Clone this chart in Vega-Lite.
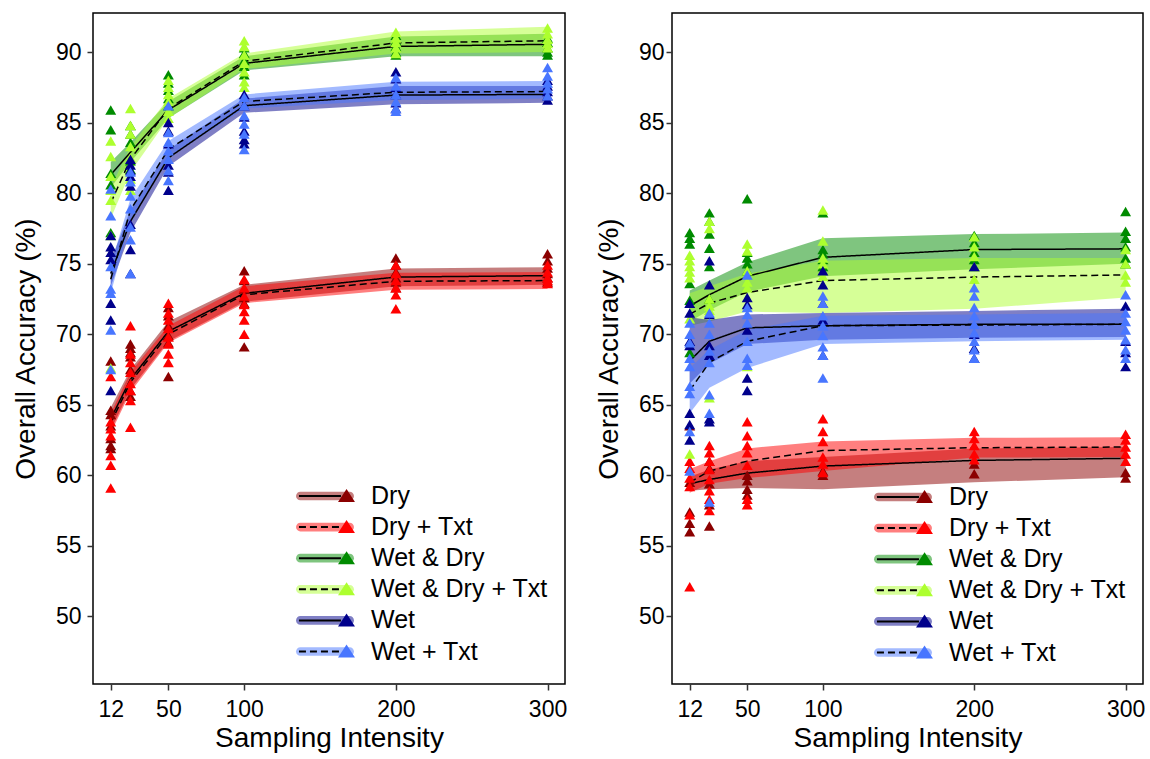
{
  "$schema": "https://vega.github.io/schema/vega-lite/v6.json",
  "padding": {"left": 11, "top": 12, "right": 5, "bottom": 2},
  "background": "white",
  "spacing": 26,
  "config": {
    "font": "Liberation Sans",
    "view": {"stroke": "black", "strokeWidth": 1.5, "fill": "white"},
    "axis": {"grid": false, "domain": false, "tickColor": "#333", "tickWidth": 1.5, "tickSize": 6, "labelFontSize": 23, "labelColor": "black", "labelFont": "Liberation Sans", "titleFontSize": 28, "titleFontWeight": "normal", "titleColor": "black", "titleFont": "Liberation Sans"},
    "legend": {"labelFont": "Liberation Sans", "labelFontSize": 25, "labelColor": "black", "labelLimit": 400, "padding": 0, "symbolSize": 784, "symbolStrokeWidth": 2, "rowPadding": 3.1, "labelOffset": 31, "title": null}
  },
  "resolve": {"scale": {"fill": "independent", "color": "independent", "strokeDash": "independent"}},
  "datasets": {
    "bandsA": [
      {"series": "Dry", "n": 12, "mean": 64.0, "lo": 63.2, "hi": 64.8},
      {"series": "Dry", "n": 25, "mean": 66.8, "lo": 66.1, "hi": 67.5},
      {"series": "Dry", "n": 50, "mean": 70.2, "lo": 69.5, "hi": 70.9},
      {"series": "Dry", "n": 100, "mean": 72.9, "lo": 72.3, "hi": 73.5},
      {"series": "Dry", "n": 200, "mean": 74.05, "lo": 73.4, "hi": 74.65},
      {"series": "Dry", "n": 300, "mean": 74.15, "lo": 73.5, "hi": 74.75},
      {"series": "Dry + Txt", "n": 12, "mean": 63.7, "lo": 63.0, "hi": 64.4},
      {"series": "Dry + Txt", "n": 25, "mean": 66.6, "lo": 65.9, "hi": 67.3},
      {"series": "Dry + Txt", "n": 50, "mean": 70.0, "lo": 69.4, "hi": 70.6},
      {"series": "Dry + Txt", "n": 100, "mean": 72.8, "lo": 72.2, "hi": 73.4},
      {"series": "Dry + Txt", "n": 200, "mean": 73.75, "lo": 73.15, "hi": 74.35},
      {"series": "Dry + Txt", "n": 300, "mean": 73.8, "lo": 73.2, "hi": 74.4},
      {"series": "Wet & Dry", "n": 12, "mean": 81.3, "lo": 80.4, "hi": 82.2},
      {"series": "Wet & Dry", "n": 25, "mean": 82.9, "lo": 82.2, "hi": 83.6},
      {"series": "Wet & Dry", "n": 50, "mean": 85.9, "lo": 85.3, "hi": 86.5},
      {"series": "Wet & Dry", "n": 100, "mean": 89.2, "lo": 88.7, "hi": 89.7},
      {"series": "Wet & Dry", "n": 200, "mean": 90.4, "lo": 89.7, "hi": 91.1},
      {"series": "Wet & Dry", "n": 300, "mean": 90.55, "lo": 89.7, "hi": 91.3},
      {"series": "Wet & Dry + Txt", "n": 12, "mean": 79.3, "lo": 78.2, "hi": 80.4},
      {"series": "Wet & Dry + Txt", "n": 25, "mean": 82.4, "lo": 81.5, "hi": 83.3},
      {"series": "Wet & Dry + Txt", "n": 50, "mean": 86.0, "lo": 85.3, "hi": 86.7},
      {"series": "Wet & Dry + Txt", "n": 100, "mean": 89.35, "lo": 88.8, "hi": 89.9},
      {"series": "Wet & Dry + Txt", "n": 200, "mean": 90.65, "lo": 89.9, "hi": 91.45},
      {"series": "Wet & Dry + Txt", "n": 300, "mean": 90.8, "lo": 90.0, "hi": 91.8},
      {"series": "Wet", "n": 12, "mean": 74.3, "lo": 73.4, "hi": 75.2},
      {"series": "Wet", "n": 25, "mean": 78.0, "lo": 77.2, "hi": 78.8},
      {"series": "Wet", "n": 50, "mean": 82.5, "lo": 81.9, "hi": 83.1},
      {"series": "Wet", "n": 100, "mean": 86.2, "lo": 85.7, "hi": 86.7},
      {"series": "Wet", "n": 200, "mean": 86.95, "lo": 86.3, "hi": 87.6},
      {"series": "Wet", "n": 300, "mean": 87.0, "lo": 86.4, "hi": 87.6},
      {"series": "Wet + Txt", "n": 12, "mean": 73.9, "lo": 72.9, "hi": 74.9},
      {"series": "Wet + Txt", "n": 25, "mean": 78.8, "lo": 78.0, "hi": 79.6},
      {"series": "Wet + Txt", "n": 50, "mean": 83.1, "lo": 82.5, "hi": 83.7},
      {"series": "Wet + Txt", "n": 100, "mean": 86.5, "lo": 86.0, "hi": 87.0},
      {"series": "Wet + Txt", "n": 200, "mean": 87.15, "lo": 86.6, "hi": 87.9},
      {"series": "Wet + Txt", "n": 300, "mean": 87.2, "lo": 86.7, "hi": 87.95}
    ],
    "bandsB": [
      {"series": "Dry", "n": 12, "mean": 59.4, "lo": 58.9, "hi": 59.9},
      {"series": "Dry", "n": 25, "mean": 59.7, "lo": 59.0, "hi": 60.4},
      {"series": "Dry", "n": 50, "mean": 60.15, "lo": 59.1, "hi": 61.0},
      {"series": "Dry", "n": 100, "mean": 60.65, "lo": 59.0, "hi": 61.3},
      {"series": "Dry", "n": 200, "mean": 61.05, "lo": 59.5, "hi": 61.9},
      {"series": "Dry", "n": 300, "mean": 61.2, "lo": 59.85, "hi": 62.0},
      {"series": "Dry + Txt", "n": 12, "mean": 59.5, "lo": 58.75, "hi": 60.45},
      {"series": "Dry + Txt", "n": 25, "mean": 60.3, "lo": 59.4, "hi": 61.0},
      {"series": "Dry + Txt", "n": 50, "mean": 61.0, "lo": 59.8, "hi": 61.9},
      {"series": "Dry + Txt", "n": 100, "mean": 61.75, "lo": 60.3, "hi": 62.4},
      {"series": "Dry + Txt", "n": 200, "mean": 61.95, "lo": 61.25, "hi": 62.65},
      {"series": "Dry + Txt", "n": 300, "mean": 62.0, "lo": 61.3, "hi": 62.7},
      {"series": "Wet & Dry", "n": 12, "mean": 72.0, "lo": 70.9, "hi": 73.1},
      {"series": "Wet & Dry", "n": 25, "mean": 72.8, "lo": 71.7, "hi": 73.8},
      {"series": "Wet & Dry", "n": 50, "mean": 74.1, "lo": 73.0, "hi": 75.1},
      {"series": "Wet & Dry", "n": 100, "mean": 75.45, "lo": 74.1, "hi": 76.8},
      {"series": "Wet & Dry", "n": 200, "mean": 76.0, "lo": 74.6, "hi": 77.1},
      {"series": "Wet & Dry", "n": 300, "mean": 76.05, "lo": 75.0, "hi": 77.2},
      {"series": "Wet & Dry + Txt", "n": 12, "mean": 71.4, "lo": 70.6, "hi": 72.9},
      {"series": "Wet & Dry + Txt", "n": 25, "mean": 72.2, "lo": 70.9, "hi": 73.4},
      {"series": "Wet & Dry + Txt", "n": 50, "mean": 72.95, "lo": 71.6, "hi": 74.3},
      {"series": "Wet & Dry + Txt", "n": 100, "mean": 73.8, "lo": 71.5, "hi": 75.2},
      {"series": "Wet & Dry + Txt", "n": 200, "mean": 74.05, "lo": 71.8, "hi": 75.4},
      {"series": "Wet & Dry + Txt", "n": 300, "mean": 74.2, "lo": 72.6, "hi": 75.4},
      {"series": "Wet", "n": 12, "mean": 68.1, "lo": 66.5, "hi": 71.2},
      {"series": "Wet", "n": 25, "mean": 69.5, "lo": 67.9, "hi": 71.0},
      {"series": "Wet", "n": 50, "mean": 70.45, "lo": 69.3, "hi": 71.4},
      {"series": "Wet", "n": 100, "mean": 70.6, "lo": 69.6, "hi": 71.5},
      {"series": "Wet", "n": 200, "mean": 70.7, "lo": 69.75, "hi": 71.65},
      {"series": "Wet", "n": 300, "mean": 70.7, "lo": 69.8, "hi": 71.8},
      {"series": "Wet + Txt", "n": 12, "mean": 66.0, "lo": 64.4, "hi": 67.6},
      {"series": "Wet + Txt", "n": 25, "mean": 68.0, "lo": 66.2, "hi": 68.9},
      {"series": "Wet + Txt", "n": 50, "mean": 69.5, "lo": 67.6, "hi": 70.3},
      {"series": "Wet + Txt", "n": 100, "mean": 70.6, "lo": 69.3, "hi": 71.3},
      {"series": "Wet + Txt", "n": 200, "mean": 70.65, "lo": 69.5, "hi": 71.4},
      {"series": "Wet + Txt", "n": 300, "mean": 70.7, "lo": 69.6, "hi": 71.5}
    ],
    "pointsA": [
      {"series": "Dry", "n": 12, "acc": 68.1}, {"series": "Dry", "n": 12, "acc": 64.6}, {"series": "Dry", "n": 12, "acc": 64.3}, {"series": "Dry", "n": 12, "acc": 63.5}, {"series": "Dry", "n": 12, "acc": 62.6}, {"series": "Dry", "n": 12, "acc": 62.1}, {"series": "Dry", "n": 12, "acc": 61.9},
      {"series": "Dry", "n": 25, "acc": 69.3}, {"series": "Dry", "n": 25, "acc": 69.0}, {"series": "Dry", "n": 25, "acc": 68.7}, {"series": "Dry", "n": 25, "acc": 68.4}, {"series": "Dry", "n": 25, "acc": 67.5}, {"series": "Dry", "n": 25, "acc": 66.0}, {"series": "Dry", "n": 25, "acc": 65.6},
      {"series": "Dry", "n": 50, "acc": 71.9}, {"series": "Dry", "n": 50, "acc": 71.3}, {"series": "Dry", "n": 50, "acc": 70.6}, {"series": "Dry", "n": 50, "acc": 69.9}, {"series": "Dry", "n": 50, "acc": 69.4}, {"series": "Dry", "n": 50, "acc": 67.0},
      {"series": "Dry", "n": 100, "acc": 74.5}, {"series": "Dry", "n": 100, "acc": 73.8}, {"series": "Dry", "n": 100, "acc": 73.2}, {"series": "Dry", "n": 100, "acc": 72.6}, {"series": "Dry", "n": 100, "acc": 72.2}, {"series": "Dry", "n": 100, "acc": 69.1},
      {"series": "Dry", "n": 200, "acc": 75.4}, {"series": "Dry", "n": 200, "acc": 74.9}, {"series": "Dry", "n": 200, "acc": 74.4}, {"series": "Dry", "n": 200, "acc": 74.0}, {"series": "Dry", "n": 200, "acc": 73.7}, {"series": "Dry", "n": 200, "acc": 73.3},
      {"series": "Dry", "n": 300, "acc": 75.7}, {"series": "Dry", "n": 300, "acc": 75.2}, {"series": "Dry", "n": 300, "acc": 74.7}, {"series": "Dry", "n": 300, "acc": 74.3}, {"series": "Dry", "n": 300, "acc": 74.0}, {"series": "Dry", "n": 300, "acc": 73.7},
      {"series": "Dry + Txt", "n": 12, "acc": 67.0}, {"series": "Dry + Txt", "n": 12, "acc": 63.8}, {"series": "Dry + Txt", "n": 12, "acc": 63.3}, {"series": "Dry + Txt", "n": 12, "acc": 62.8}, {"series": "Dry + Txt", "n": 12, "acc": 61.4}, {"series": "Dry + Txt", "n": 12, "acc": 60.7}, {"series": "Dry + Txt", "n": 12, "acc": 59.1},
      {"series": "Dry + Txt", "n": 25, "acc": 70.6}, {"series": "Dry + Txt", "n": 25, "acc": 68.6}, {"series": "Dry + Txt", "n": 25, "acc": 68.0}, {"series": "Dry + Txt", "n": 25, "acc": 67.3}, {"series": "Dry + Txt", "n": 25, "acc": 66.5}, {"series": "Dry + Txt", "n": 25, "acc": 66.0}, {"series": "Dry + Txt", "n": 25, "acc": 65.3}, {"series": "Dry + Txt", "n": 25, "acc": 63.4},
      {"series": "Dry + Txt", "n": 50, "acc": 72.2}, {"series": "Dry + Txt", "n": 50, "acc": 71.5}, {"series": "Dry + Txt", "n": 50, "acc": 71.0}, {"series": "Dry + Txt", "n": 50, "acc": 70.4}, {"series": "Dry + Txt", "n": 50, "acc": 69.8}, {"series": "Dry + Txt", "n": 50, "acc": 69.3}, {"series": "Dry + Txt", "n": 50, "acc": 68.6}, {"series": "Dry + Txt", "n": 50, "acc": 68.0},
      {"series": "Dry + Txt", "n": 100, "acc": 73.9}, {"series": "Dry + Txt", "n": 100, "acc": 73.3}, {"series": "Dry + Txt", "n": 100, "acc": 72.7}, {"series": "Dry + Txt", "n": 100, "acc": 72.1}, {"series": "Dry + Txt", "n": 100, "acc": 71.6}, {"series": "Dry + Txt", "n": 100, "acc": 71.0}, {"series": "Dry + Txt", "n": 100, "acc": 70.0},
      {"series": "Dry + Txt", "n": 200, "acc": 74.9}, {"series": "Dry + Txt", "n": 200, "acc": 74.3}, {"series": "Dry + Txt", "n": 200, "acc": 73.8}, {"series": "Dry + Txt", "n": 200, "acc": 73.3}, {"series": "Dry + Txt", "n": 200, "acc": 72.8}, {"series": "Dry + Txt", "n": 200, "acc": 71.8},
      {"series": "Dry + Txt", "n": 300, "acc": 74.9}, {"series": "Dry + Txt", "n": 300, "acc": 74.4}, {"series": "Dry + Txt", "n": 300, "acc": 74.0}, {"series": "Dry + Txt", "n": 300, "acc": 73.6}, {"series": "Dry + Txt", "n": 300, "acc": 73.8},
      {"series": "Wet & Dry", "n": 12, "acc": 85.9}, {"series": "Wet & Dry", "n": 12, "acc": 84.5}, {"series": "Wet & Dry", "n": 12, "acc": 81.4}, {"series": "Wet & Dry", "n": 12, "acc": 80.6}, {"series": "Wet & Dry", "n": 12, "acc": 77.2},
      {"series": "Wet & Dry", "n": 25, "acc": 84.8}, {"series": "Wet & Dry", "n": 25, "acc": 84.2}, {"series": "Wet & Dry", "n": 25, "acc": 83.6}, {"series": "Wet & Dry", "n": 25, "acc": 82.3}, {"series": "Wet & Dry", "n": 25, "acc": 81.7},
      {"series": "Wet & Dry", "n": 50, "acc": 88.4}, {"series": "Wet & Dry", "n": 50, "acc": 87.8}, {"series": "Wet & Dry", "n": 50, "acc": 87.3}, {"series": "Wet & Dry", "n": 50, "acc": 86.7}, {"series": "Wet & Dry", "n": 50, "acc": 86.2},
      {"series": "Wet & Dry", "n": 100, "acc": 90.3}, {"series": "Wet & Dry", "n": 100, "acc": 89.9}, {"series": "Wet & Dry", "n": 100, "acc": 89.4}, {"series": "Wet & Dry", "n": 100, "acc": 89.0}, {"series": "Wet & Dry", "n": 100, "acc": 88.4},
      {"series": "Wet & Dry", "n": 200, "acc": 91.2}, {"series": "Wet & Dry", "n": 200, "acc": 90.8}, {"series": "Wet & Dry", "n": 200, "acc": 90.4}, {"series": "Wet & Dry", "n": 200, "acc": 90.0}, {"series": "Wet & Dry", "n": 200, "acc": 89.8},
      {"series": "Wet & Dry", "n": 300, "acc": 91.0}, {"series": "Wet & Dry", "n": 300, "acc": 90.7}, {"series": "Wet & Dry", "n": 300, "acc": 90.3}, {"series": "Wet & Dry", "n": 300, "acc": 90.0}, {"series": "Wet & Dry", "n": 300, "acc": 89.8},
      {"series": "Wet & Dry + Txt", "n": 12, "acc": 83.7}, {"series": "Wet & Dry + Txt", "n": 12, "acc": 82.6}, {"series": "Wet & Dry + Txt", "n": 12, "acc": 81.2}, {"series": "Wet & Dry + Txt", "n": 12, "acc": 80.2}, {"series": "Wet & Dry + Txt", "n": 12, "acc": 79.5}, {"series": "Wet & Dry + Txt", "n": 12, "acc": 77.0}, {"series": "Wet & Dry + Txt", "n": 12, "acc": 67.6},
      {"series": "Wet & Dry + Txt", "n": 25, "acc": 86.0}, {"series": "Wet & Dry + Txt", "n": 25, "acc": 84.8}, {"series": "Wet & Dry + Txt", "n": 25, "acc": 84.2}, {"series": "Wet & Dry + Txt", "n": 25, "acc": 83.3}, {"series": "Wet & Dry + Txt", "n": 25, "acc": 82.5}, {"series": "Wet & Dry + Txt", "n": 25, "acc": 81.0}, {"series": "Wet & Dry + Txt", "n": 25, "acc": 80.2},
      {"series": "Wet & Dry + Txt", "n": 50, "acc": 88.0}, {"series": "Wet & Dry + Txt", "n": 50, "acc": 87.5}, {"series": "Wet & Dry + Txt", "n": 50, "acc": 87.0}, {"series": "Wet & Dry + Txt", "n": 50, "acc": 86.5}, {"series": "Wet & Dry + Txt", "n": 50, "acc": 85.8}, {"series": "Wet & Dry + Txt", "n": 50, "acc": 85.3},
      {"series": "Wet & Dry + Txt", "n": 100, "acc": 90.8}, {"series": "Wet & Dry + Txt", "n": 100, "acc": 90.4}, {"series": "Wet & Dry + Txt", "n": 100, "acc": 89.8}, {"series": "Wet & Dry + Txt", "n": 100, "acc": 89.2}, {"series": "Wet & Dry + Txt", "n": 100, "acc": 88.6}, {"series": "Wet & Dry + Txt", "n": 100, "acc": 87.9}, {"series": "Wet & Dry + Txt", "n": 100, "acc": 87.5},
      {"series": "Wet & Dry + Txt", "n": 200, "acc": 91.4}, {"series": "Wet & Dry + Txt", "n": 200, "acc": 91.0}, {"series": "Wet & Dry + Txt", "n": 200, "acc": 90.7}, {"series": "Wet & Dry + Txt", "n": 200, "acc": 90.3}, {"series": "Wet & Dry + Txt", "n": 200, "acc": 89.9},
      {"series": "Wet & Dry + Txt", "n": 300, "acc": 91.7}, {"series": "Wet & Dry + Txt", "n": 300, "acc": 91.3}, {"series": "Wet & Dry + Txt", "n": 300, "acc": 90.9}, {"series": "Wet & Dry + Txt", "n": 300, "acc": 90.6}, {"series": "Wet & Dry + Txt", "n": 300, "acc": 90.3},
      {"series": "Wet", "n": 12, "acc": 77.0}, {"series": "Wet", "n": 12, "acc": 76.2}, {"series": "Wet", "n": 12, "acc": 75.8}, {"series": "Wet", "n": 12, "acc": 75.3}, {"series": "Wet", "n": 12, "acc": 72.2}, {"series": "Wet", "n": 12, "acc": 71.0}, {"series": "Wet", "n": 12, "acc": 66.0},
      {"series": "Wet", "n": 25, "acc": 82.4}, {"series": "Wet", "n": 25, "acc": 82.0}, {"series": "Wet", "n": 25, "acc": 81.6}, {"series": "Wet", "n": 25, "acc": 81.2}, {"series": "Wet", "n": 25, "acc": 80.5}, {"series": "Wet", "n": 25, "acc": 77.8}, {"series": "Wet", "n": 25, "acc": 76.0}, {"series": "Wet", "n": 25, "acc": 74.3},
      {"series": "Wet", "n": 50, "acc": 85.0}, {"series": "Wet", "n": 50, "acc": 84.4}, {"series": "Wet", "n": 50, "acc": 83.5}, {"series": "Wet", "n": 50, "acc": 82.0}, {"series": "Wet", "n": 50, "acc": 81.5}, {"series": "Wet", "n": 50, "acc": 80.2},
      {"series": "Wet", "n": 100, "acc": 87.0}, {"series": "Wet", "n": 100, "acc": 86.2}, {"series": "Wet", "n": 100, "acc": 85.4}, {"series": "Wet", "n": 100, "acc": 84.4}, {"series": "Wet", "n": 100, "acc": 83.8}, {"series": "Wet", "n": 100, "acc": 83.5},
      {"series": "Wet", "n": 200, "acc": 88.6}, {"series": "Wet", "n": 200, "acc": 88.1}, {"series": "Wet", "n": 200, "acc": 87.5}, {"series": "Wet", "n": 200, "acc": 87.0}, {"series": "Wet", "n": 200, "acc": 86.4}, {"series": "Wet", "n": 200, "acc": 86.0},
      {"series": "Wet", "n": 300, "acc": 88.0}, {"series": "Wet", "n": 300, "acc": 87.6}, {"series": "Wet", "n": 300, "acc": 87.2}, {"series": "Wet", "n": 300, "acc": 86.9}, {"series": "Wet", "n": 300, "acc": 86.6},
      {"series": "Wet + Txt", "n": 12, "acc": 80.3}, {"series": "Wet + Txt", "n": 12, "acc": 78.4}, {"series": "Wet + Txt", "n": 12, "acc": 74.8}, {"series": "Wet + Txt", "n": 12, "acc": 73.2}, {"series": "Wet + Txt", "n": 12, "acc": 72.9}, {"series": "Wet + Txt", "n": 12, "acc": 70.3}, {"series": "Wet + Txt", "n": 12, "acc": 67.5},
      {"series": "Wet + Txt", "n": 25, "acc": 81.5}, {"series": "Wet + Txt", "n": 25, "acc": 80.8}, {"series": "Wet + Txt", "n": 25, "acc": 79.8}, {"series": "Wet + Txt", "n": 25, "acc": 78.9}, {"series": "Wet + Txt", "n": 25, "acc": 77.6}, {"series": "Wet + Txt", "n": 25, "acc": 76.7}, {"series": "Wet + Txt", "n": 25, "acc": 74.3},
      {"series": "Wet + Txt", "n": 50, "acc": 86.2}, {"series": "Wet + Txt", "n": 50, "acc": 84.3}, {"series": "Wet + Txt", "n": 50, "acc": 83.6}, {"series": "Wet + Txt", "n": 50, "acc": 83.0}, {"series": "Wet + Txt", "n": 50, "acc": 82.4}, {"series": "Wet + Txt", "n": 50, "acc": 81.6}, {"series": "Wet + Txt", "n": 50, "acc": 80.9},
      {"series": "Wet + Txt", "n": 100, "acc": 86.8}, {"series": "Wet + Txt", "n": 100, "acc": 86.2}, {"series": "Wet + Txt", "n": 100, "acc": 85.5}, {"series": "Wet + Txt", "n": 100, "acc": 84.9}, {"series": "Wet + Txt", "n": 100, "acc": 84.2}, {"series": "Wet + Txt", "n": 100, "acc": 83.1},
      {"series": "Wet + Txt", "n": 200, "acc": 88.2}, {"series": "Wet + Txt", "n": 200, "acc": 87.6}, {"series": "Wet + Txt", "n": 200, "acc": 87.0}, {"series": "Wet + Txt", "n": 200, "acc": 86.5}, {"series": "Wet + Txt", "n": 200, "acc": 86.0}, {"series": "Wet + Txt", "n": 200, "acc": 85.8},
      {"series": "Wet + Txt", "n": 300, "acc": 88.9}, {"series": "Wet + Txt", "n": 300, "acc": 88.3}, {"series": "Wet + Txt", "n": 300, "acc": 87.8}, {"series": "Wet + Txt", "n": 300, "acc": 87.4}, {"series": "Wet + Txt", "n": 300, "acc": 86.9}
    ],
    "pointsB": [
      {"series": "Dry", "n": 12, "acc": 63.5}, {"series": "Dry", "n": 12, "acc": 59.5}, {"series": "Dry", "n": 12, "acc": 57.4}, {"series": "Dry", "n": 12, "acc": 56.6}, {"series": "Dry", "n": 12, "acc": 56.0},
      {"series": "Dry", "n": 25, "acc": 61.0}, {"series": "Dry", "n": 25, "acc": 60.5}, {"series": "Dry", "n": 25, "acc": 59.4}, {"series": "Dry", "n": 25, "acc": 57.9}, {"series": "Dry", "n": 25, "acc": 56.4},
      {"series": "Dry", "n": 50, "acc": 60.0}, {"series": "Dry", "n": 50, "acc": 59.6}, {"series": "Dry", "n": 50, "acc": 59.0}, {"series": "Dry", "n": 50, "acc": 58.6},
      {"series": "Dry", "n": 100, "acc": 60.3}, {"series": "Dry", "n": 100, "acc": 60.0},
      {"series": "Dry", "n": 200, "acc": 60.8}, {"series": "Dry", "n": 200, "acc": 60.1},
      {"series": "Dry", "n": 300, "acc": 60.2}, {"series": "Dry", "n": 300, "acc": 59.8},
      {"series": "Dry + Txt", "n": 12, "acc": 61.0}, {"series": "Dry + Txt", "n": 12, "acc": 60.5}, {"series": "Dry + Txt", "n": 12, "acc": 59.8}, {"series": "Dry + Txt", "n": 12, "acc": 59.2}, {"series": "Dry + Txt", "n": 12, "acc": 57.2}, {"series": "Dry + Txt", "n": 12, "acc": 52.1},
      {"series": "Dry + Txt", "n": 25, "acc": 62.1}, {"series": "Dry + Txt", "n": 25, "acc": 61.6}, {"series": "Dry + Txt", "n": 25, "acc": 61.0}, {"series": "Dry + Txt", "n": 25, "acc": 60.4}, {"series": "Dry + Txt", "n": 25, "acc": 59.7}, {"series": "Dry + Txt", "n": 25, "acc": 58.9}, {"series": "Dry + Txt", "n": 25, "acc": 58.3}, {"series": "Dry + Txt", "n": 25, "acc": 57.5},
      {"series": "Dry + Txt", "n": 50, "acc": 63.8}, {"series": "Dry + Txt", "n": 50, "acc": 62.8}, {"series": "Dry + Txt", "n": 50, "acc": 62.1}, {"series": "Dry + Txt", "n": 50, "acc": 61.6}, {"series": "Dry + Txt", "n": 50, "acc": 60.7}, {"series": "Dry + Txt", "n": 50, "acc": 58.3}, {"series": "Dry + Txt", "n": 50, "acc": 57.9},
      {"series": "Dry + Txt", "n": 100, "acc": 64.0}, {"series": "Dry + Txt", "n": 100, "acc": 63.1}, {"series": "Dry + Txt", "n": 100, "acc": 62.4}, {"series": "Dry + Txt", "n": 100, "acc": 61.3}, {"series": "Dry + Txt", "n": 100, "acc": 60.8}, {"series": "Dry + Txt", "n": 100, "acc": 60.2},
      {"series": "Dry + Txt", "n": 200, "acc": 63.1}, {"series": "Dry + Txt", "n": 200, "acc": 62.6}, {"series": "Dry + Txt", "n": 200, "acc": 62.1}, {"series": "Dry + Txt", "n": 200, "acc": 61.5}, {"series": "Dry + Txt", "n": 200, "acc": 61.1},
      {"series": "Dry + Txt", "n": 300, "acc": 62.9}, {"series": "Dry + Txt", "n": 300, "acc": 62.5}, {"series": "Dry + Txt", "n": 300, "acc": 62.0}, {"series": "Dry + Txt", "n": 300, "acc": 61.5}, {"series": "Dry + Txt", "n": 300, "acc": 61.0},
      {"series": "Wet & Dry", "n": 12, "acc": 77.2}, {"series": "Wet & Dry", "n": 12, "acc": 76.8}, {"series": "Wet & Dry", "n": 12, "acc": 76.4}, {"series": "Wet & Dry", "n": 12, "acc": 73.6}, {"series": "Wet & Dry", "n": 12, "acc": 72.4}, {"series": "Wet & Dry", "n": 12, "acc": 68.7},
      {"series": "Wet & Dry", "n": 25, "acc": 78.6}, {"series": "Wet & Dry", "n": 25, "acc": 78.0}, {"series": "Wet & Dry", "n": 25, "acc": 77.1}, {"series": "Wet & Dry", "n": 25, "acc": 76.1}, {"series": "Wet & Dry", "n": 25, "acc": 74.8}, {"series": "Wet & Dry", "n": 25, "acc": 72.5},
      {"series": "Wet & Dry", "n": 50, "acc": 79.6}, {"series": "Wet & Dry", "n": 50, "acc": 75.8}, {"series": "Wet & Dry", "n": 50, "acc": 75.4}, {"series": "Wet & Dry", "n": 50, "acc": 75.0}, {"series": "Wet & Dry", "n": 50, "acc": 74.5},
      {"series": "Wet & Dry", "n": 100, "acc": 78.6}, {"series": "Wet & Dry", "n": 100, "acc": 76.0}, {"series": "Wet & Dry", "n": 100, "acc": 75.7}, {"series": "Wet & Dry", "n": 100, "acc": 75.3}, {"series": "Wet & Dry", "n": 100, "acc": 74.8},
      {"series": "Wet & Dry", "n": 200, "acc": 77.0}, {"series": "Wet & Dry", "n": 200, "acc": 76.5}, {"series": "Wet & Dry", "n": 200, "acc": 75.8}, {"series": "Wet & Dry", "n": 200, "acc": 75.3}, {"series": "Wet & Dry", "n": 200, "acc": 74.8},
      {"series": "Wet & Dry", "n": 300, "acc": 78.7}, {"series": "Wet & Dry", "n": 300, "acc": 77.3}, {"series": "Wet & Dry", "n": 300, "acc": 76.8}, {"series": "Wet & Dry", "n": 300, "acc": 76.2}, {"series": "Wet & Dry", "n": 300, "acc": 75.4}, {"series": "Wet & Dry", "n": 300, "acc": 75.0},
      {"series": "Wet & Dry + Txt", "n": 12, "acc": 75.6}, {"series": "Wet & Dry + Txt", "n": 12, "acc": 75.2}, {"series": "Wet & Dry + Txt", "n": 12, "acc": 74.8}, {"series": "Wet & Dry + Txt", "n": 12, "acc": 74.4}, {"series": "Wet & Dry + Txt", "n": 12, "acc": 74.0}, {"series": "Wet & Dry + Txt", "n": 12, "acc": 71.1}, {"series": "Wet & Dry + Txt", "n": 12, "acc": 61.5},
      {"series": "Wet & Dry + Txt", "n": 25, "acc": 78.0}, {"series": "Wet & Dry + Txt", "n": 25, "acc": 77.5}, {"series": "Wet & Dry + Txt", "n": 25, "acc": 72.5}, {"series": "Wet & Dry + Txt", "n": 25, "acc": 72.0}, {"series": "Wet & Dry + Txt", "n": 25, "acc": 71.7}, {"series": "Wet & Dry + Txt", "n": 25, "acc": 65.5},
      {"series": "Wet & Dry + Txt", "n": 50, "acc": 76.4}, {"series": "Wet & Dry + Txt", "n": 50, "acc": 75.9}, {"series": "Wet & Dry + Txt", "n": 50, "acc": 74.5}, {"series": "Wet & Dry + Txt", "n": 50, "acc": 73.7}, {"series": "Wet & Dry + Txt", "n": 50, "acc": 73.3}, {"series": "Wet & Dry + Txt", "n": 50, "acc": 67.7},
      {"series": "Wet & Dry + Txt", "n": 100, "acc": 78.8}, {"series": "Wet & Dry + Txt", "n": 100, "acc": 76.6}, {"series": "Wet & Dry + Txt", "n": 100, "acc": 75.4}, {"series": "Wet & Dry + Txt", "n": 100, "acc": 75.0}, {"series": "Wet & Dry + Txt", "n": 100, "acc": 74.1},
      {"series": "Wet & Dry + Txt", "n": 200, "acc": 76.9}, {"series": "Wet & Dry + Txt", "n": 200, "acc": 76.2}, {"series": "Wet & Dry + Txt", "n": 200, "acc": 75.5}, {"series": "Wet & Dry + Txt", "n": 200, "acc": 74.8}, {"series": "Wet & Dry + Txt", "n": 200, "acc": 73.9},
      {"series": "Wet & Dry + Txt", "n": 300, "acc": 76.0}, {"series": "Wet & Dry + Txt", "n": 300, "acc": 75.0}, {"series": "Wet & Dry + Txt", "n": 300, "acc": 74.2}, {"series": "Wet & Dry + Txt", "n": 300, "acc": 73.7},
      {"series": "Wet", "n": 12, "acc": 72.2}, {"series": "Wet", "n": 12, "acc": 71.5}, {"series": "Wet", "n": 12, "acc": 69.5}, {"series": "Wet", "n": 12, "acc": 69.2}, {"series": "Wet", "n": 12, "acc": 64.4}, {"series": "Wet", "n": 12, "acc": 63.6}, {"series": "Wet", "n": 12, "acc": 62.5},
      {"series": "Wet", "n": 25, "acc": 75.2}, {"series": "Wet", "n": 25, "acc": 73.5}, {"series": "Wet", "n": 25, "acc": 71.4}, {"series": "Wet", "n": 25, "acc": 69.2}, {"series": "Wet", "n": 25, "acc": 68.5}, {"series": "Wet", "n": 25, "acc": 64.0}, {"series": "Wet", "n": 25, "acc": 63.8},
      {"series": "Wet", "n": 50, "acc": 72.6}, {"series": "Wet", "n": 50, "acc": 72.1}, {"series": "Wet", "n": 50, "acc": 70.3}, {"series": "Wet", "n": 50, "acc": 66.9}, {"series": "Wet", "n": 50, "acc": 66.0},
      {"series": "Wet", "n": 100, "acc": 74.5}, {"series": "Wet", "n": 100, "acc": 73.5}, {"series": "Wet", "n": 100, "acc": 72.2}, {"series": "Wet", "n": 100, "acc": 71.0}, {"series": "Wet", "n": 100, "acc": 68.5},
      {"series": "Wet", "n": 200, "acc": 74.8}, {"series": "Wet", "n": 200, "acc": 70.0}, {"series": "Wet", "n": 200, "acc": 69.0}, {"series": "Wet", "n": 200, "acc": 68.3},
      {"series": "Wet", "n": 300, "acc": 72.0}, {"series": "Wet", "n": 300, "acc": 69.5}, {"series": "Wet", "n": 300, "acc": 68.7}, {"series": "Wet", "n": 300, "acc": 67.7},
      {"series": "Wet + Txt", "n": 12, "acc": 70.8}, {"series": "Wet + Txt", "n": 12, "acc": 70.0}, {"series": "Wet + Txt", "n": 12, "acc": 69.4}, {"series": "Wet + Txt", "n": 12, "acc": 68.3}, {"series": "Wet + Txt", "n": 12, "acc": 67.7}, {"series": "Wet + Txt", "n": 12, "acc": 66.3}, {"series": "Wet + Txt", "n": 12, "acc": 65.8}, {"series": "Wet + Txt", "n": 12, "acc": 63.1}, {"series": "Wet + Txt", "n": 12, "acc": 60.3},
      {"series": "Wet + Txt", "n": 25, "acc": 71.5}, {"series": "Wet + Txt", "n": 25, "acc": 70.8}, {"series": "Wet + Txt", "n": 25, "acc": 70.0}, {"series": "Wet + Txt", "n": 25, "acc": 68.8}, {"series": "Wet + Txt", "n": 25, "acc": 68.0}, {"series": "Wet + Txt", "n": 25, "acc": 65.7}, {"series": "Wet + Txt", "n": 25, "acc": 64.4}, {"series": "Wet + Txt", "n": 25, "acc": 58.1},
      {"series": "Wet + Txt", "n": 50, "acc": 74.2}, {"series": "Wet + Txt", "n": 50, "acc": 71.9}, {"series": "Wet + Txt", "n": 50, "acc": 71.4}, {"series": "Wet + Txt", "n": 50, "acc": 70.8}, {"series": "Wet + Txt", "n": 50, "acc": 69.5}, {"series": "Wet + Txt", "n": 50, "acc": 68.3}, {"series": "Wet + Txt", "n": 50, "acc": 67.8},
      {"series": "Wet + Txt", "n": 100, "acc": 72.7}, {"series": "Wet + Txt", "n": 100, "acc": 72.2}, {"series": "Wet + Txt", "n": 100, "acc": 71.3}, {"series": "Wet + Txt", "n": 100, "acc": 70.6}, {"series": "Wet + Txt", "n": 100, "acc": 69.9}, {"series": "Wet + Txt", "n": 100, "acc": 69.1}, {"series": "Wet + Txt", "n": 100, "acc": 68.5}, {"series": "Wet + Txt", "n": 100, "acc": 66.9},
      {"series": "Wet + Txt", "n": 200, "acc": 73.3}, {"series": "Wet + Txt", "n": 200, "acc": 72.7}, {"series": "Wet + Txt", "n": 200, "acc": 71.9}, {"series": "Wet + Txt", "n": 200, "acc": 71.3}, {"series": "Wet + Txt", "n": 200, "acc": 70.7}, {"series": "Wet + Txt", "n": 200, "acc": 70.1}, {"series": "Wet + Txt", "n": 200, "acc": 69.5}, {"series": "Wet + Txt", "n": 200, "acc": 68.9}, {"series": "Wet + Txt", "n": 200, "acc": 68.3},
      {"series": "Wet + Txt", "n": 300, "acc": 72.8}, {"series": "Wet + Txt", "n": 300, "acc": 71.5}, {"series": "Wet + Txt", "n": 300, "acc": 70.9}, {"series": "Wet + Txt", "n": 300, "acc": 70.3}, {"series": "Wet + Txt", "n": 300, "acc": 69.6}, {"series": "Wet + Txt", "n": 300, "acc": 68.9}, {"series": "Wet + Txt", "n": 300, "acc": 68.3}
    ]
  },
  "hconcat": [
    {
      "width": 472,
      "height": 671,
      "layer": [
        {
          "data": {"name": "bandsA"},
          "mark": {"type": "area", "opacity": 0.5},
          "encoding": {
            "x": {"field": "n", "type": "quantitative", "scale": {"domain": [0.3, 311.5], "nice": false, "zero": false}, "axis": {"title": "Sampling Intensity", "values": [12, 50, 100, 200, 300], "labelPadding": 8, "titlePadding": 3}},
            "y": {"field": "hi", "type": "quantitative", "scale": {"domain": [45.2, 92.77], "nice": false, "zero": false}, "axis": {"title": "Overall Accuracy (%)", "values": [50, 55, 60, 65, 70, 75, 80, 85, 90], "labelPadding": 6, "titlePadding": 15}},
            "y2": {"field": "lo"},
            "fill": {"field": "series", "type": "nominal", "scale": {"domain": ["Dry", "Dry + Txt", "Wet & Dry", "Wet & Dry + Txt", "Wet", "Wet + Txt"], "range": ["#8B0000", "#FF0000", "#008B00", "#ADFF2F", "#00008B", "#4876FF"]},
              "legend": {"orient": "none", "legendX": 217, "legendY": 468, "zindex": 1, "labelOpacity": 0, "symbolType": "M-1.76,-0.31H1.76A0.31,0.31,0,0,1,1.76,0.31H-1.76A0.31,0.31,0,0,1,-1.76,-0.31Z", "encode": {"symbols": {"update": {"stroke": {"value": "transparent"}, "strokeWidth": {"value": 2}}}}}}
          }
        },
        {
          "data": {"name": "bandsA"},
          "mark": {"type": "line", "color": "black", "strokeWidth": 1.5},
          "encoding": {
            "x": {"field": "n", "type": "quantitative"},
            "y": {"field": "mean", "type": "quantitative"},
            "strokeDash": {"field": "series", "type": "nominal", "sort": ["Dry", "Dry + Txt", "Wet & Dry", "Wet & Dry + Txt", "Wet", "Wet + Txt"], "scale": {"range": [[1, 0], [7, 4], [1, 0], [7, 4], [1, 0], [7, 4]]},
              "legend": {"orient": "none", "legendX": 217, "legendY": 468, "zindex": 2, "labelOpacity": 0, "symbolType": "M-1.86,0H1.14", "encode": {"symbols": {"update": {"stroke": {"value": "black"}, "strokeWidth": {"value": 2}, "fill": {"value": "transparent"}}}}}}
          }
        },
        {
          "data": {"name": "pointsA"},
          "mark": {"type": "point", "shape": "triangle-up", "filled": true, "size": 120, "opacity": 1},
          "encoding": {
            "x": {"field": "n", "type": "quantitative"},
            "y": {"field": "acc", "type": "quantitative"},
            "color": {"field": "series", "type": "nominal", "sort": ["Dry", "Dry + Txt", "Wet & Dry", "Wet & Dry + Txt", "Wet", "Wet + Txt"], "scale": {"range": ["#8B0000", "#FF0000", "#008B00", "#ADFF2F", "#00008B", "#4876FF"]},
              "legend": {"orient": "none", "legendX": 217, "legendY": 468, "zindex": 3, "symbolType": "M1.54,-0.5L2.14,0.43L0.93,0.43Z", "encode": {"symbols": {"update": {"stroke": {"value": "transparent"}, "strokeWidth": {"value": 2}}}}}}
          }
        }
      ]
    },
    {
      "width": 471,
      "height": 671,
      "layer": [
        {
          "data": {"name": "bandsB"},
          "mark": {"type": "area", "opacity": 0.5},
          "encoding": {
            "x": {"field": "n", "type": "quantitative", "scale": {"domain": [0.3, 311.5], "nice": false, "zero": false}, "axis": {"title": "Sampling Intensity", "values": [12, 50, 100, 200, 300], "labelPadding": 8, "titlePadding": 3}},
            "y": {"field": "hi", "type": "quantitative", "scale": {"domain": [45.2, 92.77], "nice": false, "zero": false}, "axis": {"title": "Overall Accuracy (%)", "values": [50, 55, 60, 65, 70, 75, 80, 85, 90], "labelPadding": 2, "titlePadding": 15}},
            "y2": {"field": "lo"},
            "fill": {"field": "series", "type": "nominal", "scale": {"domain": ["Dry", "Dry + Txt", "Wet & Dry", "Wet & Dry + Txt", "Wet", "Wet + Txt"], "range": ["#8B0000", "#FF0000", "#008B00", "#ADFF2F", "#00008B", "#4876FF"]},
              "legend": {"orient": "none", "legendX": 216, "legendY": 469, "zindex": 1, "labelOpacity": 0, "symbolType": "M-1.76,-0.31H1.76A0.31,0.31,0,0,1,1.76,0.31H-1.76A0.31,0.31,0,0,1,-1.76,-0.31Z", "encode": {"symbols": {"update": {"stroke": {"value": "transparent"}, "strokeWidth": {"value": 2}}}}}}
          }
        },
        {
          "data": {"name": "bandsB"},
          "mark": {"type": "line", "color": "black", "strokeWidth": 1.5},
          "encoding": {
            "x": {"field": "n", "type": "quantitative"},
            "y": {"field": "mean", "type": "quantitative"},
            "strokeDash": {"field": "series", "type": "nominal", "sort": ["Dry", "Dry + Txt", "Wet & Dry", "Wet & Dry + Txt", "Wet", "Wet + Txt"], "scale": {"range": [[1, 0], [7, 4], [1, 0], [7, 4], [1, 0], [7, 4]]},
              "legend": {"orient": "none", "legendX": 216, "legendY": 469, "zindex": 2, "labelOpacity": 0, "symbolType": "M-1.86,0H1.14", "encode": {"symbols": {"update": {"stroke": {"value": "black"}, "strokeWidth": {"value": 2}, "fill": {"value": "transparent"}}}}}}
          }
        },
        {
          "data": {"name": "pointsB"},
          "mark": {"type": "point", "shape": "triangle-up", "filled": true, "size": 120, "opacity": 1},
          "encoding": {
            "x": {"field": "n", "type": "quantitative"},
            "y": {"field": "acc", "type": "quantitative"},
            "color": {"field": "series", "type": "nominal", "sort": ["Dry", "Dry + Txt", "Wet & Dry", "Wet & Dry + Txt", "Wet", "Wet + Txt"], "scale": {"range": ["#8B0000", "#FF0000", "#008B00", "#ADFF2F", "#00008B", "#4876FF"]},
              "legend": {"orient": "none", "legendX": 216, "legendY": 469, "zindex": 3, "symbolType": "M1.54,-0.5L2.14,0.43L0.93,0.43Z", "encode": {"symbols": {"update": {"stroke": {"value": "transparent"}, "strokeWidth": {"value": 2}}}}}}
          }
        }
      ]
    }
  ]
}
